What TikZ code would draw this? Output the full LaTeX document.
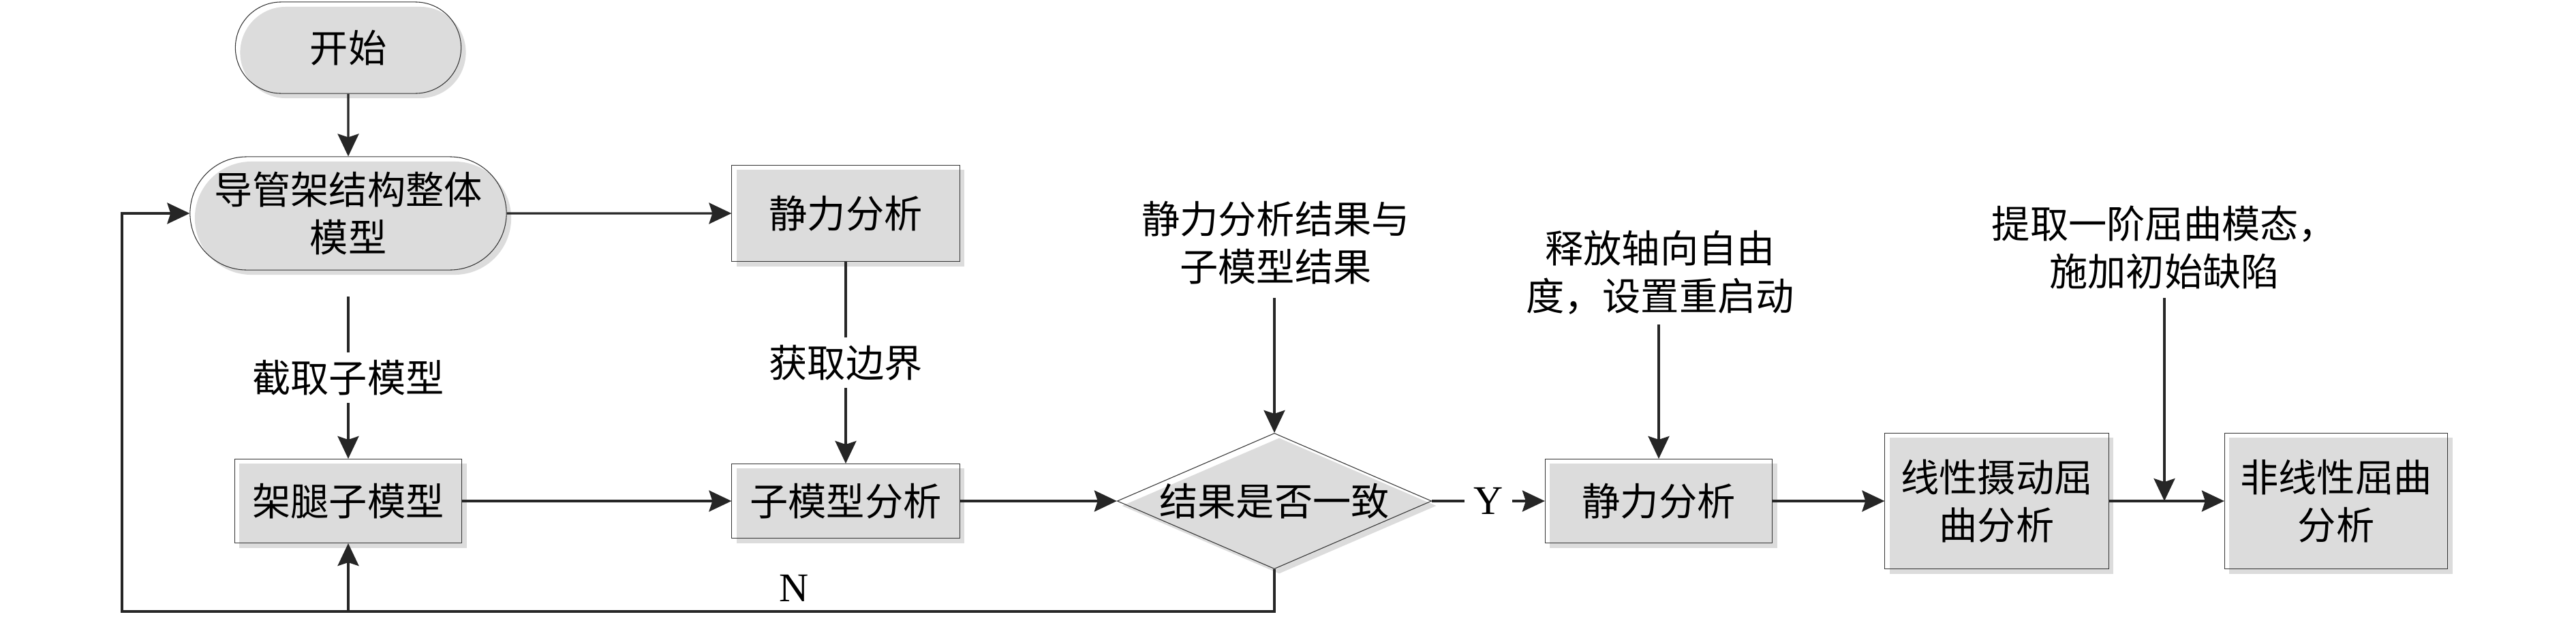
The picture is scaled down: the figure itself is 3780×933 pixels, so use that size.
\documentclass[tikz,border=0pt]{standalone}
\usepackage{fontspec}
\setmainfont{Liberation Serif}
\newfontfamily\cjk{Noto Sans CJK SC}
\usetikzlibrary{shapes.geometric,shapes.misc,arrows.meta,shadows}
\definecolor{boxgray}{HTML}{DCDCDC}
\definecolor{linec}{HTML}{262626}
\begin{document}
\begin{tikzpicture}[x=0.01cm,y=-0.01cm,
  shp/.style={draw=black!80, line width=0.3pt,
    general shadow={fill=boxgray, shadow xshift=0.07cm, shadow yshift=-0.07cm},
    font=\cjk\fontsize{16}{20}\selectfont, align=center, inner sep=0pt},
  boxn/.style={shp, rectangle},
  term/.style={shp, rounded rectangle},
  dec/.style={shp, diamond},
  lbl/.style={font=\cjk\fontsize{16}{20}\selectfont, align=center, inner sep=0pt},
  midlbl/.style={lbl, fill=white, inner sep=0.11cm},
  latinlbl/.style={font=\fontsize{17}{20}\selectfont, inner sep=0pt},
  ylbl/.style={latinlbl, fill=white, inner xsep=0.13cm},
  conn/.style={draw=linec, line width=0.95pt},
  arr/.style={conn, -{Stealth[length=0.33cm,width=0.31cm,inset=0.05cm]}},
]
\useasboundingbox (0,0) rectangle (3780,933);

% nodes
\node[term, minimum width=3.31cm, minimum height=1.34cm] (start) at (511,70) {开始};
\node[term, minimum width=4.64cm, minimum height=1.66cm] (model) at (511,313) {导管架结构整体\\模型};
\node[boxn, minimum width=3.34cm, minimum height=1.41cm] (st1) at (1241,313) {静力分析};
\node[boxn, minimum width=3.33cm, minimum height=1.23cm] (leg) at (511,735) {架腿子模型};
\node[boxn, minimum width=3.34cm, minimum height=1.09cm] (sub) at (1241,735) {子模型分析};
\node[dec, minimum width=4.61cm, minimum height=1.99cm] (dia) at (1870,735) {\makebox[0pt]{结果是否一致}};
\node[boxn, minimum width=3.33cm, minimum height=1.23cm] (st2) at (2434,735) {静力分析};
\node[boxn, minimum width=3.28cm, minimum height=1.99cm] (lin) at (2930,735) {线性摄动屈\\曲分析};
\node[boxn, minimum width=3.27cm, minimum height=1.99cm] (nl) at (3428,735) {非线性屈曲\\分析};

\node[lbl] (t1) at (1872,356) {静力分析结果与\\子模型结果};
\node[lbl] (t2) at (2436,400) {释放轴向自由\\度，设置重启动};
\node[lbl] (t3) at (3176,363) {提取一阶屈曲模态，\\施加初始缺陷};
\node[latinlbl] (nlab) at (1165,863) {N};

% free ends
\coordinate (c1) at (511,435);
\coordinate (a1) at (1870,437);
\coordinate (a2) at (2434,476);
\coordinate (a3) at (3176,437);
\coordinate (m3) at (3176,735);
\coordinate (lp) at (179,897);

% connectors
\draw[arr] (start) -- (model);
\draw[arr] (model) -- (st1);
\draw[arr] (c1) -- node[midlbl]{截取子模型} (leg);
\draw[arr] (st1) -- node[midlbl]{获取边界} (sub);
\draw[arr] (leg) -- (sub);
\draw[arr] (sub) -- (dia);
\draw[arr] (a1) -- (dia);
\draw[arr] (dia) -- node[ylbl]{Y} (st2);
\draw[arr] (a2) -- (st2);
\draw[arr] (st2) -- (lin);
\draw[arr] (lin) -- (nl);
\draw[arr] (a3) -- (m3);
\draw[arr] (dia.south) |- (lp) |- (model.west);
\draw[arr] (leg.south |- lp) -- (leg.south);
\end{tikzpicture}
\end{document}
